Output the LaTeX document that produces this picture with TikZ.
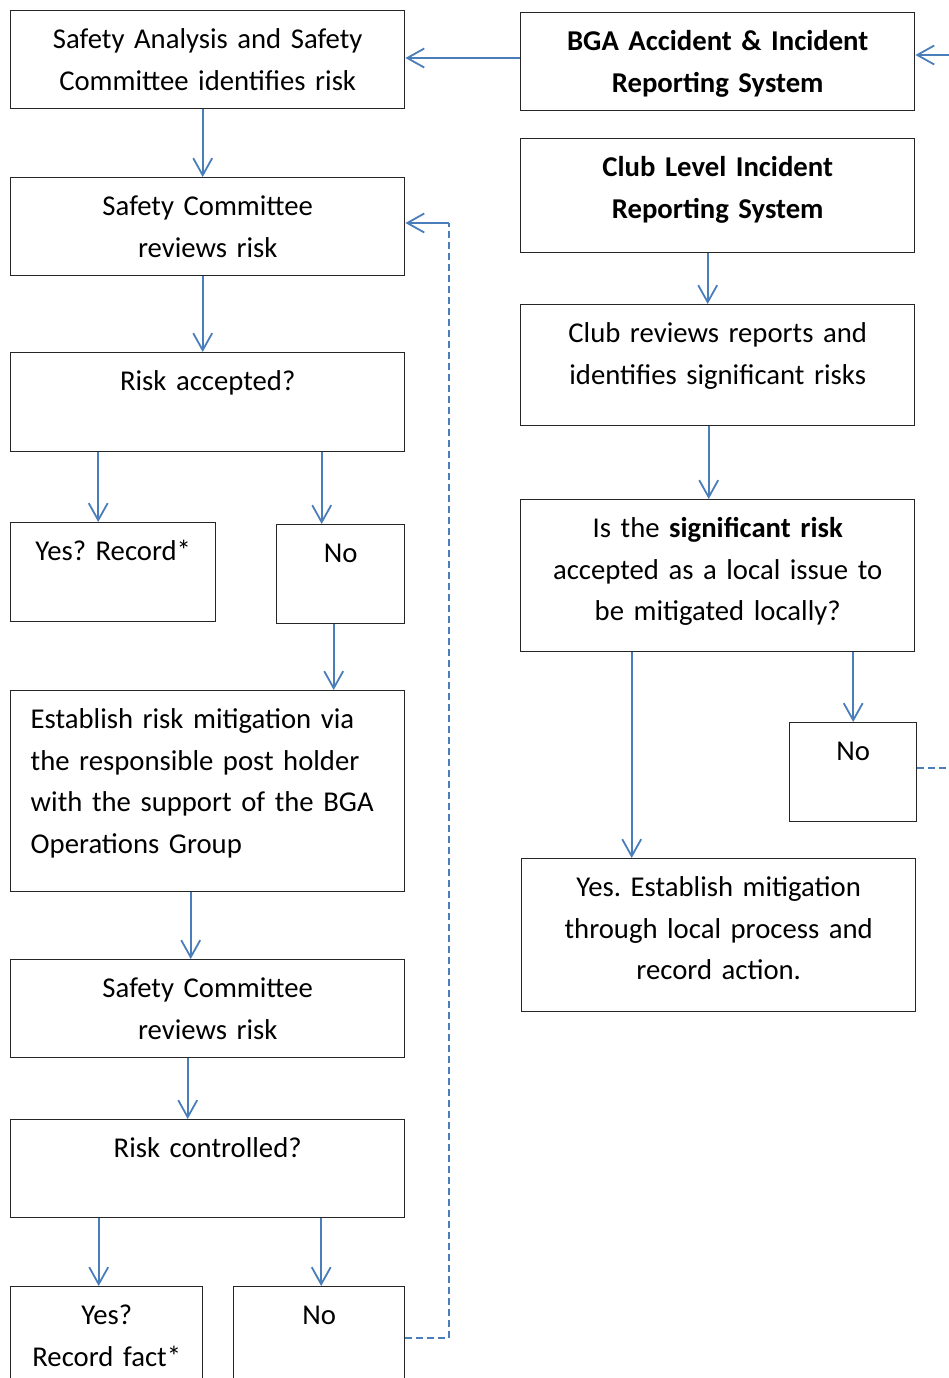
\documentclass[tikz,border=0pt]{standalone}
\usepackage{fontspec}
\setmainfont{Carlito}
\usepackage{xcolor}
\usepackage{tikz}
\usetikzlibrary{arrows.meta, positioning, calc}
\definecolor{linkblue}{HTML}{4A7EBB}
\frenchspacing

\begin{document}
\begin{tikzpicture}[x=1pt, y=-1pt,
    box/.style 2 args={draw=black!85, line width=1.4pt, anchor=north west,
      inner xsep=20pt, inner ysep=0pt, text width=#1, align=center,
      text height=38pt, text depth=#2,
      font=\fontsize{28.7}{41.5}\selectfont},
    arr/.style={draw=linkblue, line width=1.8pt,
      -{Straight Barb[length=17pt, width=19pt]}},
    loop/.style={draw=linkblue, line width=1.8pt, dash pattern=on 7pt off 4pt}]
  \clip (0,0) rectangle (949,1378);

  % Left column
  \node[box={354pt}{60pt}] (ident) at (10,10) {Safety Analysis and Safety\\Committee identifies risk};
  \node[box={354pt}{60pt}] (review1) at (10,177) {Safety Committee\\reviews risk};
  \node[box={354pt}{61pt}] (accept) at (10,352) {Risk accepted?};
  \node[box={165pt}{61pt}] (yes1) at (10,522) {Yes? Record*};
  \node[box={88pt}{61pt}] (no1) at (276,524) {No};
  \node[box={354pt}{163pt}, align=left] (mitig) at (10,690)
    {Establish risk mitigation via\\the responsible post holder\\with the support of the BGA\\Operations Group};
  \node[box={354pt}{60pt}] (review2) at (10,959) {Safety Committee\\reviews risk};
  \node[box={354pt}{60pt}] (control) at (10,1119) {Risk controlled?};
  \node[box={152pt}{62pt}] (yes2) at (10,1286) {Yes?\\Record fact*};
  \node[box={131pt}{62pt}] (no2) at (233,1286) {No};

  % Right column
  \node[box={354pt}{60pt}, font=\fontsize{28.7}{41.5}\selectfont\bfseries] (bga) at (520,12)
    {BGA Accident \& Incident\\Reporting System};
  \node[box={354pt}{76pt}, font=\fontsize{28.7}{41.5}\selectfont\bfseries] (club) at (520,138)
    {Club Level Incident\\Reporting System};
  \node[box={354pt}{83pt}] (clubrev) at (520,304) {Club reviews reports and\\identifies significant risks};
  \node[box={354pt}{114pt}] (local) at (520,499)
    {Is the \textbf{significant risk}\\accepted as a local issue to\\be mitigated locally?};
  \node[box={87pt}{61pt}] (no3) at (789,722) {No};
  \node[box={354pt}{115pt}] (yes3) at (521,858)
    {Yes. Establish mitigation\\through local process and\\record action.};

  % Connectors
  \coordinate (bgain) at (949,55);
  \coordinate (no3out) at (949,768);
  \draw[arr] (bga.west |- 0,58) -- (ident.east |- 0,58);
  \draw[arr] (bgain) -- (bgain -| bga.east);
  \draw[arr] ([xshift=-5pt]ident.south) -- ([xshift=-5pt]review1.north);
  \draw[arr] ([xshift=-5pt]review1.south) -- ([xshift=-5pt]accept.north);
  \draw[arr] ([xshift=-15pt]yes1.north |- accept.south) -- ([xshift=-15pt]yes1.north);
  \draw[arr] ([xshift=-19pt]no1.north |- accept.south) -- ([xshift=-19pt]no1.north);
  \draw[arr] ([xshift=-7pt]no1.south) -- ([xshift=-7pt]no1.south |- mitig.north);
  \draw[arr] ([xshift=-17pt]mitig.south) -- ([xshift=-17pt]review2.north);
  \draw[arr] ([xshift=-20pt]review2.south) -- ([xshift=-20pt]control.north);
  \draw[arr] ([xshift=-8pt]yes2.north |- control.south) -- ([xshift=-8pt]yes2.north);
  \draw[arr] ([xshift=2pt]no2.north |- control.south) -- ([xshift=2pt]no2.north);
  \draw[loop] (no2.east |- 0,1338) -| (449,223)
    edge[arr, solid] (review1.east |- 0,223);

  \draw[arr] ([xshift=-10pt]club.south) -- ([xshift=-10pt]clubrev.north);
  \draw[arr] ([xshift=-9pt]clubrev.south) -- ([xshift=-9pt]local.north);
  \draw[arr] ([xshift=-87pt]yes3.north |- local.south) -- ([xshift=-87pt]yes3.north);
  \draw[arr] (no3.north |- local.south) -- (no3.north);
  \draw[loop] (no3.east |- no3out) -- (no3out);
\end{tikzpicture}
\end{document}
